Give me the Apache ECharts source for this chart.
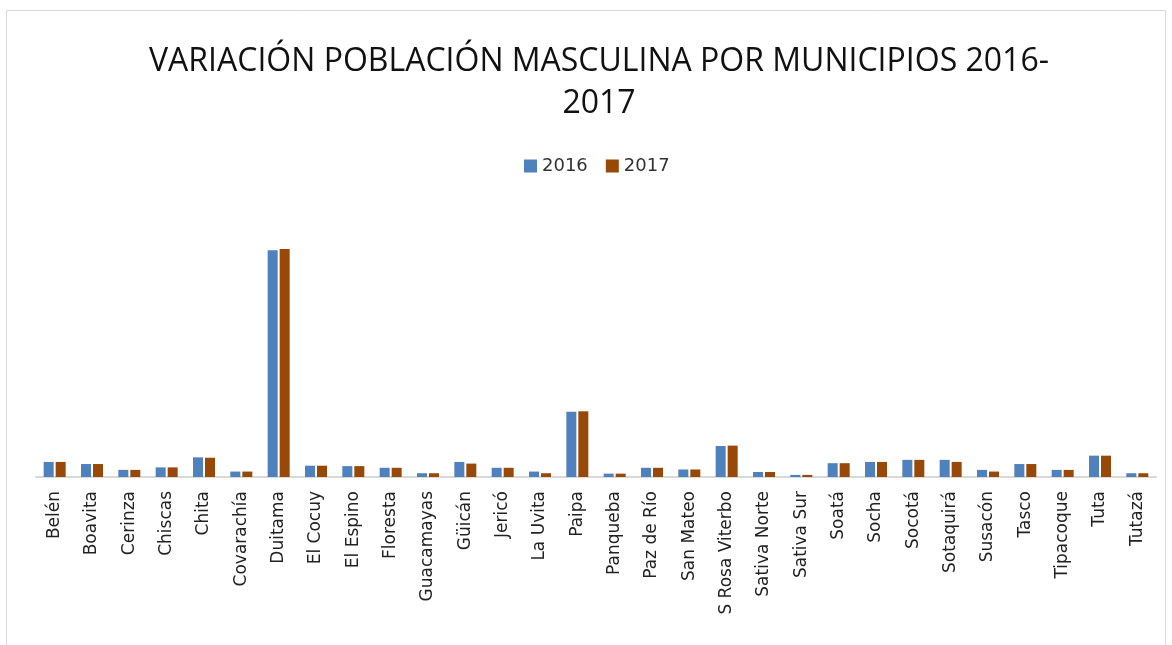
<!DOCTYPE html>
<html>
<head>
<meta charset="utf-8">
<script src="https://cdn.jsdelivr.net/npm/echarts@6/dist/echarts.min.js"></script>
<style>
  html, body { margin: 0; padding: 0; background: #fff; }
  #chart { width: 1172px; height: 645px; }
</style>
</head>
<body>
<div id="chart"></div>
<script>
const municipios = [
  'Belén', 'Boavita', 'Cerinza', 'Chiscas', 'Chita', 'Covarachía', 'Duitama', 'El Cocuy',
  'El Espino', 'Floresta', 'Guacamayas', 'Güicán', 'Jericó', 'La Uvita', 'Paipa', 'Panqueba',
  'Paz de Río', 'San Mateo', 'S Rosa Viterbo', 'Sativa Norte', 'Sativa Sur', 'Soatá', 'Socha',
  'Socotá', 'Sotaquirá', 'Susacón', 'Tasco', 'Tipacoque', 'Tuta', 'Tutazá'
]
const pob2016 = [
  3600, 3100, 1700, 2300, 4700, 1300, 54200, 2700,
  2600, 2200, 900, 3600, 2200, 1300, 15600, 800,
  2200, 1800, 7400, 1200, 500, 3300, 3600,
  4100, 4100, 1700, 3100, 1700, 5100, 900
]
const pob2017 = [
  3600, 3100, 1700, 2300, 4600, 1300, 54500, 2700,
  2600, 2200, 900, 3200, 2200, 900, 15700, 800,
  2200, 1800, 7500, 1200, 500, 3300, 3600,
  4100, 3600, 1300, 3100, 1700, 5100, 900
]

const FONT = 'DejaVu Sans'
const chart = echarts.init(document.getElementById('chart'))

chart.setOption({
  animation: false,
  backgroundColor: '#fff',
  title: {
    text: 'VARIACIÓN POBLACIÓN MASCULINA POR MUNICIPIOS 2016-\n2017',
    // centre of the title sits a bit right of the canvas centre
    left: 594,
    textAlign: 'center',
    top: 36,
    textStyle: {
      fontFamily: 'Open Sans',
      fontSize: 32,
      fontWeight: 'normal',
      color: '#111',
      lineHeight: 42,
    },
  },
  legend: {
    top: 152,
    left: 519,
    itemWidth: 13,
    itemHeight: 13,
    itemGap: 18,
    icon: 'rect',
    textStyle: { fontFamily: FONT, fontSize: 18, color: '#333' },
    data: ['2016', '2017'],
  },
  graphic: [{
    type: 'rect',
    shape: { x: 6.5, y: 10.5, width: 1159, height: 660 },
    style: { fill: 'none', stroke: '#d9d9d9', lineWidth: 1 },
    silent: true,
  }],
  grid: { left: 36, right: 16, top: 226, bottom: 168 },
  xAxis: {
    type: 'category',
    data: municipios,
    axisLine: { lineStyle: { color: '#d9d9d9', width: 2 } },
    axisTick: { show: false },
    axisLabel: {
      rotate: 90,
      interval: 0,
      margin: 14,
      fontFamily: FONT,
      fontSize: 17,
      color: '#222',
    },
  },
  yAxis: {
    type: 'value',
    min: 0,
    max: 60000,
    show: false,
    splitLine: { show: false },
  },
  series: [
    {
      name: '2016',
      type: 'bar',
      data: pob2016,
      barWidth: 10,
      barGap: '20%',
      itemStyle: { color: '#4f81bd' },
    },
    {
      name: '2017',
      type: 'bar',
      data: pob2017,
      barWidth: 10,
      itemStyle: { color: '#984807' },
    },
  ],
})
</script>
</body>
</html>
